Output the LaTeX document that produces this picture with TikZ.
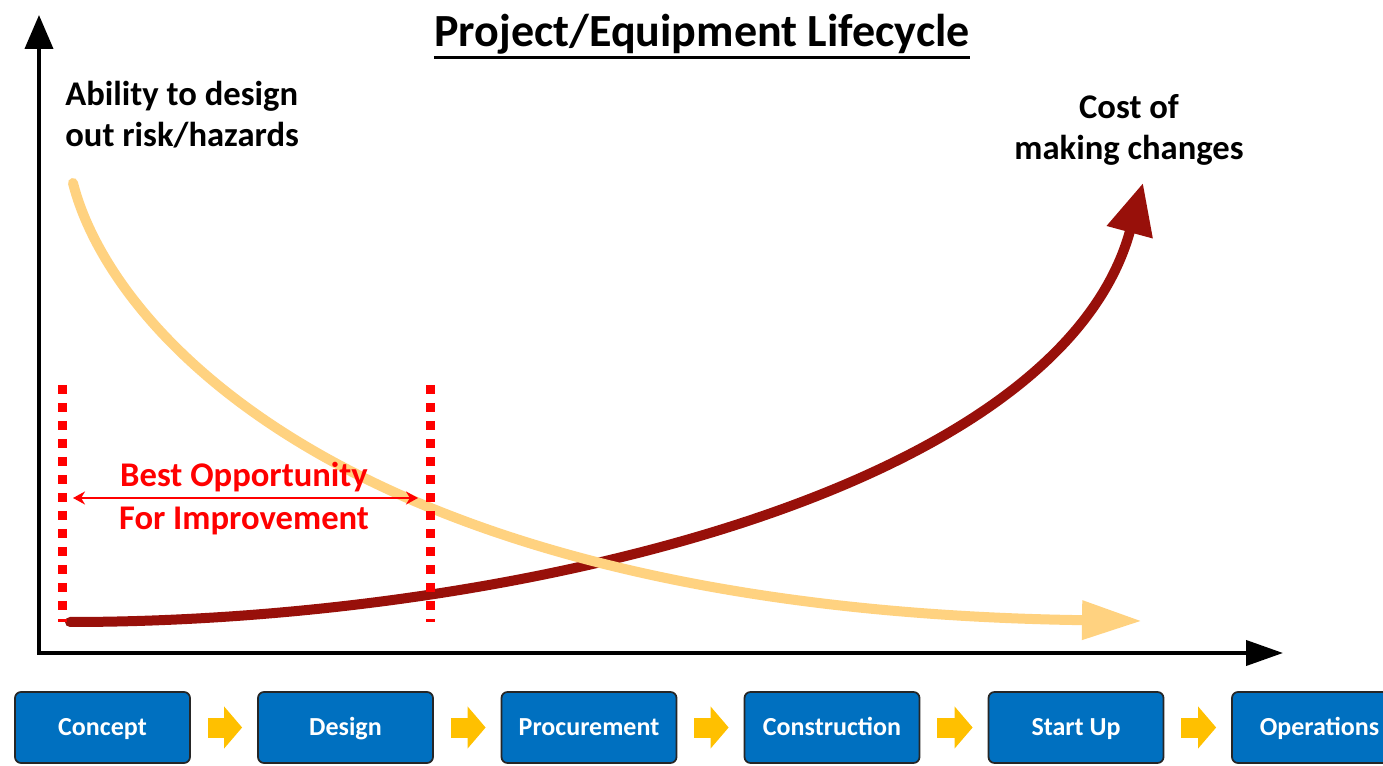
\documentclass[tikz,border=0pt]{standalone}
\usepackage{fontspec}
\setmainfont{Carlito}
\usepackage{xcolor}
\usepackage{tikz}
\usetikzlibrary{arrows.meta}
\definecolor{phaseblue}{RGB}{0,112,192}
\definecolor{stepgold}{RGB}{255,192,0}
\definecolor{riskamber}{RGB}{255,210,128}
\definecolor{costred}{RGB}{152,16,10}
\definecolor{optred}{RGB}{255,0,0}

\begin{document}
\begin{tikzpicture}[every node/.style={font=\bfseries, inner sep=0pt}]
  \tikzstyle{phasebox}=[rectangle, rounded corners=0.12cm, draw=black!85, line width=0.035cm, fill=phaseblue, text=white, minimum width=3.5cm, minimum height=1.42cm, font=\fontsize{14.8pt}{17pt}\bfseries, text height=9.4pt, text depth=0pt]
  \tikzstyle{steparrow}=[stepgold, line width=0.4cm, -{Triangle[length=0.36cm, width=0.82cm]}, shorten <=0.34cm, shorten >=0.3cm]
  \tikzstyle{axisline}=[line width=0.08cm, {Triangle[length=0.68cm, width=0.56cm]}-{Triangle[length=0.74cm, width=0.5cm]}]
  \tikzstyle{curvetext}=[font=\fontsize{19.7pt}{23.5pt}\bfseries]
  \tikzstyle{window}=[optred, line width=0.18cm, dash pattern=on 0.18cm off 0.18cm]
  \path[use as bounding box, clip] (0,0) rectangle (27.66,15.3);

  % axes
  \coordinate (o) at (0.78,2.24);
  \coordinate (ytop) at (0.78,15.0);
  \coordinate (xend) at (25.66,2.24);
  \draw[axisline] (ytop) -- (o) -- (xend);

  % title
  \node[anchor=base, font=\fontsize{26.2pt}{30pt}\bfseries] (title) at (14.04,14.36) {Project/Equipment Lifecycle};
  \draw[line width=0.06cm] ([yshift=-0.22cm]title.base west) -- ([yshift=-0.22cm]title.base east);

  % curve captions (base = last line)
  \node[curvetext, anchor=base west, align=left] (ability) at (1.3,12.36) {Ability to design\\out risk/hazards};
  \node[curvetext, anchor=base, align=center] (cost) at (22.58,12.1) {Cost of\\making changes};

  % cost and ability curves
  \coordinate (coststart) at (1.4,2.86);
  \coordinate (costend) at (22.86,11.64);
  \coordinate (riskstart) at (1.46,11.64);
  \coordinate (riskend) at (22.84,2.88);
  \draw[costred, line width=0.2cm, line cap=round, -{Triangle[length=1.02cm, width=0.9cm]}] (coststart) .. controls (10.0,2.86) and (21.17,5.4) .. (costend);
  \draw[riskamber, line width=0.2cm, line cap=round, -{Triangle[length=1.2cm, width=0.74cm]}] (riskstart) .. controls (2.2,8.7) and (7.0,3.1) .. (riskend);

  % best opportunity window
  \coordinate (winAtop) at (1.24,7.6);
  \coordinate (winAbot) at (1.24,2.86);
  \coordinate (winBtop) at (8.6,7.6);
  \coordinate (winBbot) at (8.6,2.86);
  \draw[window] (winAtop) -- (winAbot);
  \draw[window] (winBtop) -- (winBbot);
  \coordinate (optL) at (1.46,5.34);
  \coordinate (optR) at (8.36,5.34);
  \draw[optred, line width=0.05cm, {Stealth[length=0.24cm, width=0.26cm]}-{Stealth[length=0.24cm, width=0.26cm]}] (optL) -- (optR);
  \node[curvetext, text=optred, anchor=base, align=center, font=\fontsize{19.7pt}{24.5pt}\bfseries] (best) at (4.88,4.7) {Best Opportunity\\For Improvement};

  % project phases
  \node[phasebox] (concept) at (2.05,0.75) {Concept};
  \node[phasebox] (design) at (6.91,0.75) {Design};
  \node[phasebox] (procure) at (11.78,0.75) {Procurement};
  \node[phasebox] (construct) at (16.64,0.75) {Construction};
  \node[phasebox] (startup) at (21.52,0.75) {Start Up};
  \node[phasebox] (ops) at (26.39,0.75) {Operations};
  \draw[steparrow] (concept) -- (design);
  \draw[steparrow] (design) -- (procure);
  \draw[steparrow] (procure) -- (construct);
  \draw[steparrow] (construct) -- (startup);
  \draw[steparrow] (startup) -- (ops);
\end{tikzpicture}
\end{document}
